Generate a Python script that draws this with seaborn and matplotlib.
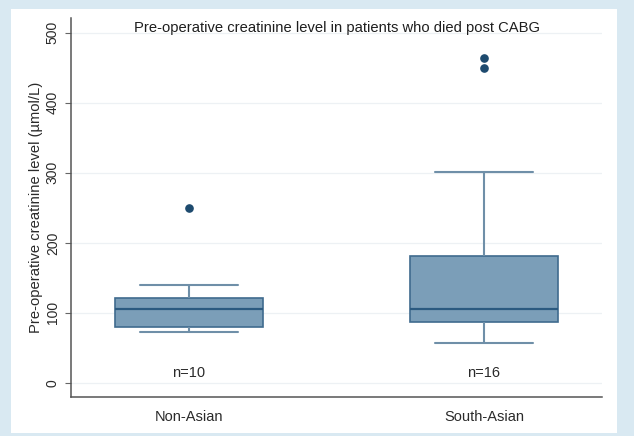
import matplotlib
matplotlib.use("Agg")
import matplotlib.pyplot as plt
import matplotlib.patches as mpatches
import pandas as pd
import seaborn as sns

# Pre-operative creatinine (µmol/L) for patients who died after CABG
groups = ["Non-Asian", "South-Asian"]
non_asian = [73, 76, 80, 80, 100, 110, 121, 121, 140, 250]
south_asian = [57, 70, 80, 87, 87, 95, 100, 104, 106, 130, 160, 181, 181, 301, 449, 464]
y_ticks = [0, 100, 200, 300, 400, 500]

title = "Pre-operative creatinine level in patients who died post CABG"
y_label = "Pre-operative creatinine level (µmol/L)"

df = pd.DataFrame({
    "group": [groups[0]] * len(non_asian) + [groups[1]] * len(south_asian),
    "creatinine": non_asian + south_asian,
})

sns.set_style("white")
plt.rcParams["font.family"] = ["Liberation Sans", "DejaVu Sans"]

W, H = 634, 436
fig = plt.figure(figsize=(W / 100, H / 100), dpi=100, facecolor="#d9e9f2")
# white plotting panel inside the coloured frame
fig.patches.append(mpatches.Rectangle((11 / W, 1 - 433 / H), 606 / W, 424 / H,
                                      transform=fig.transFigure,
                                      facecolor="white", edgecolor="none", zorder=-10))
ax = fig.add_axes([71 / W, 1 - 397 / H, 531 / W, 379 / H])
ax.set_facecolor("none")

box_fill = "#7b9eb8"
edge = "#3f6b8e"
sns.boxplot(data=df, x="group", y="creatinine", order=groups, ax=ax,
            width=0.5, color=box_fill, linecolor=edge, linewidth=1.2,
            saturation=1,
            boxprops=dict(facecolor=box_fill, edgecolor=edge, linewidth=1.2),
            medianprops=dict(color="#2b5a80", linewidth=1.6),
            whiskerprops=dict(color="#6f8fa8", linewidth=1.5),
            capprops=dict(color="#6f8fa8", linewidth=1.5),
            flierprops=dict(marker="o", markersize=5.2, markerfacecolor="#1d4a6e",
                            markeredgecolor="#1d4a6e", linestyle="none"))

# widen the whisker caps
for line in ax.lines:
    xd = list(line.get_xdata())
    yd = list(line.get_ydata())
    if len(xd) == 2 and yd[0] == yd[1] and 0.05 < abs(xd[1] - xd[0]) < 0.3:
        c = (xd[0] + xd[1]) / 2
        line.set_xdata([c - 0.165, c + 0.165])

for i, vals in enumerate([non_asian, south_asian]):
    ax.text(i, 14, f"n={len(vals)}", ha="center", va="center",
            fontsize=10.5, color="#2a2a2a")

ax.text(0.5, 0.974, title, transform=ax.transAxes, ha="center", va="center",
        fontsize=10.6, color="#1e1e1e")

ax.set_xlim(-0.4, 1.4)
ax.set_ylim(-20, 521)
ax.set_yticks(y_ticks)
ax.set_yticklabels([str(t) for t in y_ticks], rotation=90, va="center")
ax.set_xlabel("")
ax.set_ylabel(y_label, fontsize=10.6, color="#2a2a2a", labelpad=2)
ax.tick_params(axis="y", length=4, width=0.8, color="#666666", pad=4,
               labelsize=10, labelcolor="#2a2a2a", left=True)
ax.tick_params(axis="x", length=0, pad=9, labelsize=10.5, labelcolor="#2a2a2a")

ax.yaxis.grid(True, color="#edf1f4", linewidth=0.9)
ax.set_axisbelow(True)
sns.despine(ax=ax)
for s in ("left", "bottom"):
    ax.spines[s].set_color("#555555")
    ax.spines[s].set_linewidth(1.1)

fig.savefig("out.png", dpi=100, facecolor=fig.get_facecolor())
